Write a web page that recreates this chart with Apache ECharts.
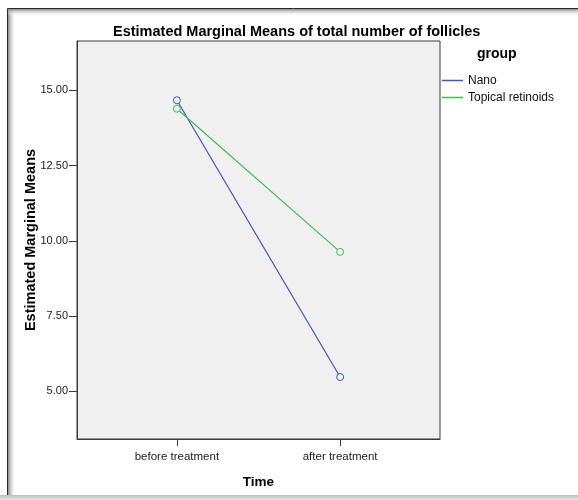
<!DOCTYPE html>
<html>
<head>
<meta charset="utf-8">
<script src="https://cdn.jsdelivr.net/npm/echarts@6/dist/echarts.min.js"></script>
<style>html,body{margin:0;padding:0;background:#fff}#c{width:578px;height:500px}</style>
</head>
<body>
<div id="c"></div>
<script>
var categories = ['before treatment', 'after treatment'];
var groups = ['Nano', 'Topical retinoids'];
var nanoValues = [14.67, 5.47];
var topicalValues = [14.39, 9.63];
var yTicks = [5, 7.5, 10, 12.5, 15];
var colors = ['#3e58ac', '#3fbd4f'];

function pts(vals) { return vals.map(function (v, i) { return [i, v]; }); }
var catIdx = categories.map(function (c, i) { return i; });
var font = 'Liberation Sans, Arial, sans-serif';

function mkSeries(name, vals, col) {
  return {
    name: name, type: 'line', data: pts(vals), color: col,
    symbol: 'circle', symbolSize: 7,
    lineStyle: { width: 1.2, color: col },
    itemStyle: { color: '#f0f0f0', borderColor: col, borderWidth: 1 }
  };
}

var chart = echarts.init(document.getElementById('c'));
chart.setOption({
  animation: false,
  textStyle: { fontFamily: font },
  graphic: [
    { type: 'rect', z: -10, shape: { x: 7.5, y: 8.5, width: 600, height: 487 }, style: { fill: '#fff', stroke: '#2a2a2a', lineWidth: 1 } },
    { type: 'rect', z: -9, shape: { x: 8, y: 9, width: 8, height: 486 }, style: { fill: new echarts.graphic.LinearGradient(0, 0, 1, 0, [{ offset: 0, color: '#8a8a8a' }, { offset: 1, color: 'rgba(255,255,255,0)' }]) } },
    { type: 'rect', z: -9, shape: { x: 8, y: 9, width: 570, height: 7 }, style: { fill: new echarts.graphic.LinearGradient(0, 0, 0, 1, [{ offset: 0, color: '#8a8a8a' }, { offset: 1, color: 'rgba(255,255,255,0)' }]) } },
    { type: 'rect', z: -9, shape: { x: 0, y: 495, width: 578, height: 5 }, style: { fill: new echarts.graphic.LinearGradient(0, 0, 0, 1, [{ offset: 0, color: '#bdbdbd' }, { offset: 1, color: '#e8e8e8' }]) } },
    { type: 'text', z: 10, left: 113, top: 24, style: { text: 'Estimated Marginal Means of total number of follicles', fontFamily: font, fontSize: 14.5, fontWeight: 'bold', fill: '#000' } },
    { type: 'text', z: 10, left: 477, top: 47, style: { text: 'group', fontFamily: font, fontSize: 14, fontWeight: 'bold', fill: '#000' } }
  ],
  grid: {
    left: 77, top: 41, right: 138, bottom: 61,
    show: true, backgroundColor: '#f0f0f0', borderColor: '#3a3a3a', borderWidth: 1
  },
  legend: {
    orient: 'vertical', left: 442, top: 74, padding: 0,
    icon: 'rect', itemWidth: 21, itemHeight: 1.5, itemGap: 4,
    itemStyle: { borderWidth: 0 },
    textStyle: { fontFamily: font, fontSize: 12, color: '#111', lineHeight: 13 },
    data: [
      { name: groups[0], itemStyle: { color: colors[0], borderWidth: 0 } },
      { name: groups[1], itemStyle: { color: colors[1], borderWidth: 0 } }
    ]
  },
  xAxis: {
    type: 'value', min: -0.612, max: 1.612,
    name: 'Time', nameLocation: 'middle', nameGap: 36,
    nameTextStyle: { fontFamily: font, fontSize: 13.5, fontWeight: 'bold', color: '#000' },
    splitLine: { show: false },
    axisLine: { show: true, onZero: false, lineStyle: { color: '#3a3a3a' } },
    axisTick: { show: true, length: 7, customValues: catIdx, lineStyle: { color: '#3a3a3a' } },
    axisLabel: { customValues: catIdx, margin: 12, fontSize: 11.5, color: '#222', formatter: function (v) { return categories[Math.round(v)]; } }
  },
  yAxis: {
    type: 'value', min: 3.41, max: 16.64,
    name: 'Estimated Marginal Means', nameLocation: 'middle', nameGap: 39, nameMoveOverlap: false,
    nameTextStyle: { fontFamily: font, fontSize: 14.5, fontWeight: 'bold', color: '#000' },
    splitLine: { show: false },
    axisLine: { show: true, onZero: false, lineStyle: { color: '#3a3a3a' } },
    axisTick: { show: true, length: 8, customValues: yTicks, lineStyle: { color: '#3a3a3a' } },
    axisLabel: { customValues: yTicks, margin: 9, fontSize: 11, color: '#222', formatter: function (v) { return v.toFixed(2); } }
  },
  series: [
    mkSeries(groups[0], nanoValues, colors[0]),
    mkSeries(groups[1], topicalValues, colors[1])
  ]
});
</script>
</body>
</html>
